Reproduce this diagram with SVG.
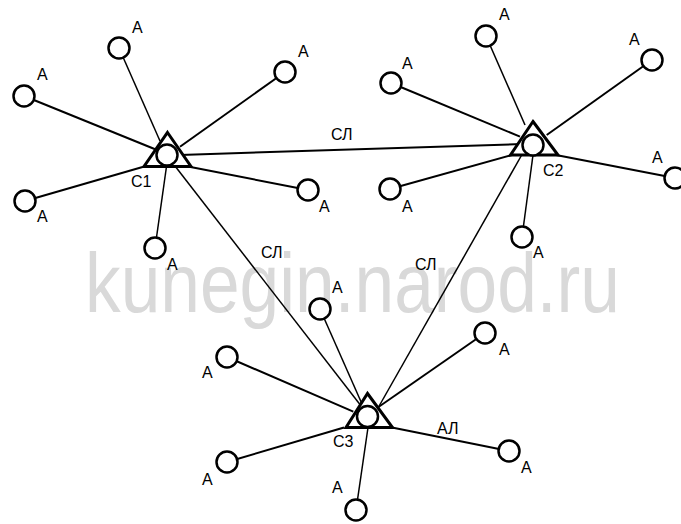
<svg xmlns="http://www.w3.org/2000/svg" width="681" height="524" viewBox="0 0 681 524">
<style>
.wm{font-family:"Liberation Sans",Arial,sans-serif;font-size:84px;fill:#d9d9d9}
.t{font-family:"Liberation Sans",Arial,sans-serif;font-size:16px;fill:#000}
.ln{stroke:#000;stroke-width:2;fill:none}
.thin{stroke:#000;stroke-width:1.5;fill:none}
.nd{fill:#fff;stroke:#000;stroke-width:2.5}
.hub{fill:#fff;stroke:#000;stroke-width:3;stroke-linejoin:miter}
</style>
<rect width="681" height="524" fill="#fff"/>
<text class="wm" x="85" y="312" textLength="535" lengthAdjust="spacingAndGlyphs">kunegin.narod.ru</text>
<g id="connectors">
<line class="ln" x1="180" y1="155" x2="522" y2="144"/>
<line class="thin" x1="175" y1="166" x2="365" y2="411"/>
<line class="thin" x1="521.7" y1="155" x2="378" y2="408"/>
<line class="thin" x1="119" y1="48" x2="160" y2="141"/>
<line class="ln" x1="285" y1="72" x2="180" y2="146.7"/>
<line class="ln" x1="24" y1="96" x2="157" y2="150"/>
<line class="ln" x1="25" y1="201" x2="146" y2="166"/>
<line class="ln" x1="308" y1="190" x2="188" y2="166.5"/>
<line class="thin" x1="155" y1="248" x2="166.5" y2="166.5"/>
<line class="thin" x1="486" y1="36" x2="525" y2="125"/>
<line class="ln" x1="652" y1="60" x2="546.7" y2="135"/>
<line class="ln" x1="391" y1="83" x2="520" y2="136.7"/>
<line class="ln" x1="390" y1="189" x2="512" y2="155"/>
<line class="ln" x1="675" y1="178" x2="556" y2="155"/>
<line class="thin" x1="522" y1="237" x2="533" y2="155"/>
<line class="thin" x1="320" y1="309" x2="361.7" y2="403.3"/>
<line class="ln" x1="485" y1="333" x2="376.7" y2="408.3"/>
<line class="ln" x1="227" y1="357" x2="353.3" y2="411.7"/>
<line class="ln" x1="227" y1="462" x2="344" y2="427.5"/>
<line class="ln" x1="509" y1="451" x2="392" y2="427.5"/>
<line class="thin" x1="356" y1="510" x2="368" y2="427.5"/>
<text class="t" x="331" y="140">СЛ</text>
<text class="t" x="261" y="257.5">СЛ</text>
<text class="t" x="415" y="270">СЛ</text>
<text class="t" x="437" y="434">АЛ</text>
</g>
<g id="C1">
<polygon class="hub" points="167.5,132.5 191,166.5 144,166.5"/>
<circle class="nd" cx="167" cy="155" r="10.5"/>
<text class="t" x="131" y="187">С1</text>
</g>
<g id="C2">
<polygon class="hub" points="533,121.5 558,155 510.5,155"/>
<circle class="nd" cx="533" cy="145" r="10.5"/>
<text class="t" x="543" y="176">С2</text>
</g>
<g id="C3">
<polygon class="hub" points="367.5,393.5 392.5,427.5 346,427.5"/>
<circle class="nd" cx="367.5" cy="416.5" r="10.5"/>
<text class="t" x="333" y="447">С3</text>
</g>
<g id="A1"><circle class="nd" cx="119" cy="48" r="10.5"/><text class="t" x="132" y="33">А</text></g>
<g id="A2"><circle class="nd" cx="285" cy="72" r="10.5"/><text class="t" x="298" y="57">А</text></g>
<g id="A3"><circle class="nd" cx="24" cy="96" r="10.5"/><text class="t" x="37" y="80">А</text></g>
<g id="A4"><circle class="nd" cx="25" cy="201" r="10.5"/><text class="t" x="37" y="222">А</text></g>
<g id="A5"><circle class="nd" cx="308" cy="190" r="10.5"/><text class="t" x="319" y="212">А</text></g>
<g id="A6"><circle class="nd" cx="155" cy="248" r="10.5"/><text class="t" x="167" y="270">А</text></g>
<g id="B1"><circle class="nd" cx="486" cy="36" r="10.5"/><text class="t" x="499" y="20">А</text></g>
<g id="B2"><circle class="nd" cx="652" cy="60" r="10.5"/><text class="t" x="629" y="45">А</text></g>
<g id="B3"><circle class="nd" cx="391" cy="83" r="10.5"/><text class="t" x="402" y="69">А</text></g>
<g id="B4"><circle class="nd" cx="390" cy="189" r="10.5"/><text class="t" x="402" y="212">А</text></g>
<g id="B5"><circle class="nd" cx="675" cy="178" r="10.5"/><text class="t" x="652" y="163">А</text></g>
<g id="B6"><circle class="nd" cx="522" cy="237" r="10.5"/><text class="t" x="533" y="258">А</text></g>
<g id="D1"><circle class="nd" cx="320" cy="309" r="10.5"/><text class="t" x="332" y="293">А</text></g>
<g id="D2"><circle class="nd" cx="485" cy="333" r="10.5"/><text class="t" x="499" y="355">А</text></g>
<g id="D3"><circle class="nd" cx="227" cy="357" r="10.5"/><text class="t" x="202" y="378">А</text></g>
<g id="D4"><circle class="nd" cx="227" cy="462" r="10.5"/><text class="t" x="202" y="485">А</text></g>
<g id="D5"><circle class="nd" cx="509" cy="451" r="10.5"/><text class="t" x="521" y="473">А</text></g>
<g id="D6"><circle class="nd" cx="356" cy="510" r="10.5"/><text class="t" x="332" y="493">А</text></g>
</svg>
